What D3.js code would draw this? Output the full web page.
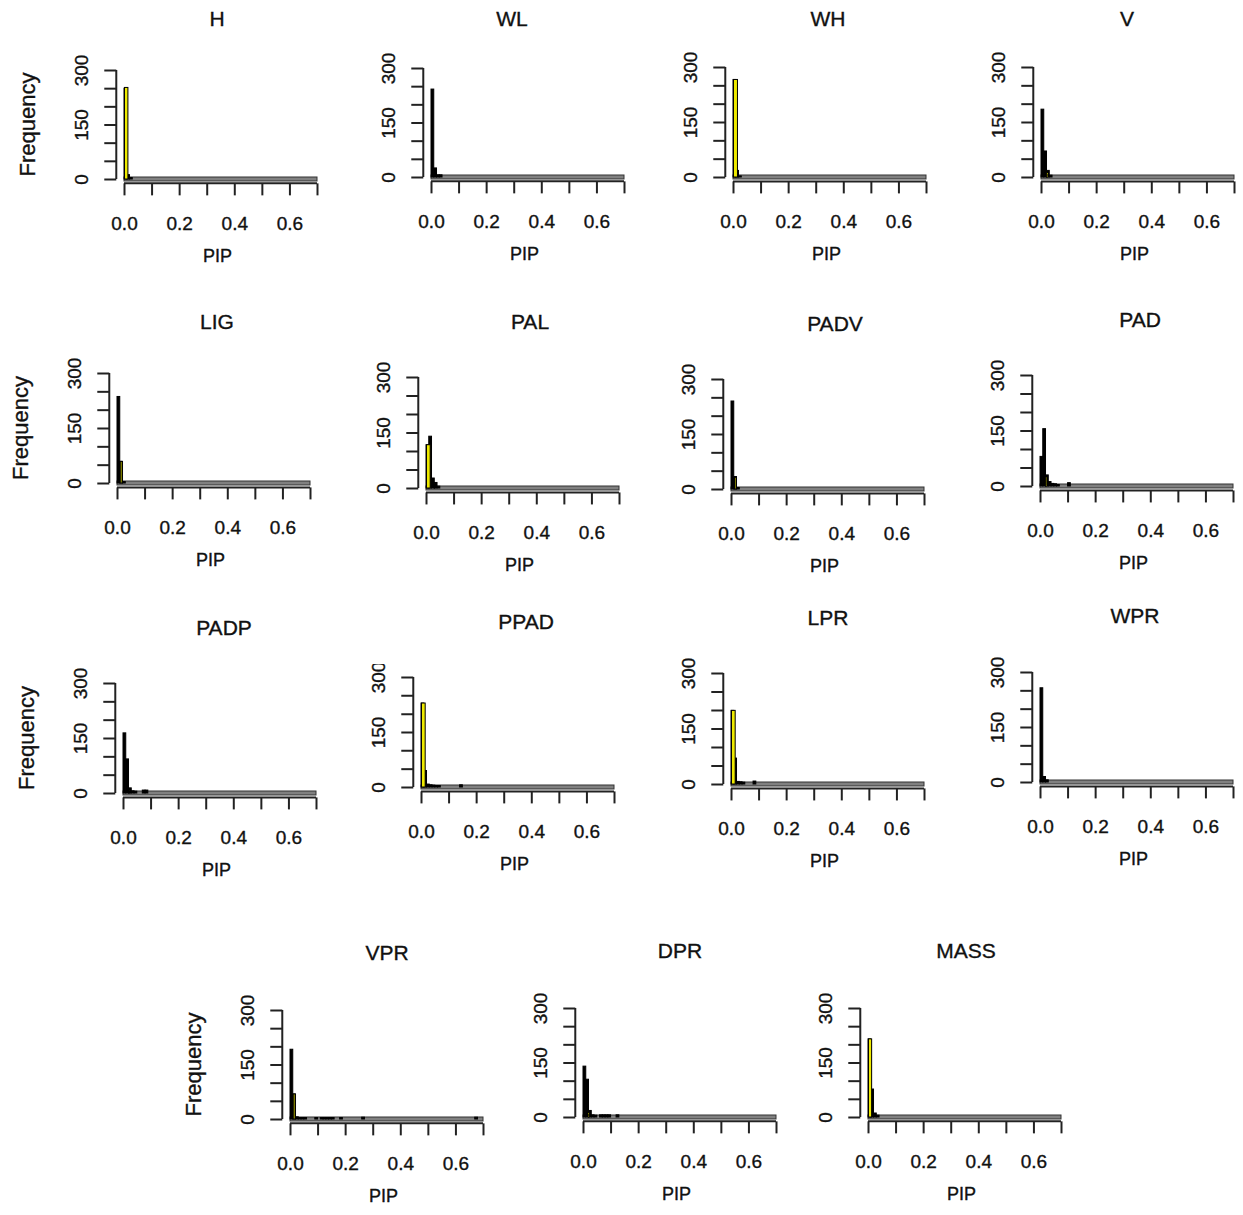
<!DOCTYPE html>
<html><head><meta charset="utf-8">
<script src="https://cdn.jsdelivr.net/npm/d3@7/dist/d3.min.js"></script>
<style>body{margin:0;background:#fff}svg{display:block}text{font-family:"Liberation Sans",Arial,sans-serif;fill:#111;stroke:#111;stroke-width:0.35px}</style>
</head><body>
<svg id="chart" width="1243" height="1215"></svg>
<script>
// ---- data (histogram bins of PIP, bin width 0.01: [binStart, count]) ----
const panelNames = ["H","WL","WH","V","LIG","PAL","PADV","PAD","PADP","PPAD","LPR","WPR","VPR","DPR","MASS"];
const binWidth = 0.01;
const binsH    = [[0,250],[0.01,12],[0.02,4]];
const binsWL   = [[0,242],[0.01,25],[0.02,6],[0.03,6]];
const binsWH   = [[0,266],[0.01,18],[0.02,3]];
const binsV    = [[0,185],[0.01,71],[0.02,18],[0.03,5]];
const binsLIG  = [[0,236],[0.01,59],[0.02,4]];
const binsPAL  = [[0,117],[0.01,140],[0.02,27],[0.03,15],[0.04,5]];
const binsPADV = [[0,240],[0.01,34],[0.02,4]];
const binsPAD  = [[0,80],[0.01,155],[0.02,30],[0.03,12],[0.04,7],[0.05,6],[0.06,4],[0.1,9]];
const binsPADP = [[0,164],[0.01,93],[0.02,14],[0.03,6],[0.04,5],[0.07,8],[0.08,8]];
const binsPPAD = [[0,229],[0.01,45],[0.02,8],[0.03,6],[0.04,5],[0.05,4],[0.06,4],[0.14,6]];
const binsLPR  = [[0,199],[0.01,70],[0.02,7],[0.03,6],[0.04,5],[0.08,8]];
const binsWPR  = [[0,257],[0.01,15],[0.02,6]];
const binsVPR  = [[0,192],[0.01,69],[0.02,6],[0.03,4],[0.04,4],[0.05,4],[0.09,4],[0.11,4],[0.12,4],[0.13,4],[0.14,4],[0.15,4],[0.18,4],[0.26,5],[0.67,5]];
const binsDPR  = [[0,140],[0.01,104],[0.02,18],[0.03,6],[0.04,5],[0.06,6],[0.07,6],[0.08,6],[0.09,6],[0.12,6]];
const binsMASS = [[0,215],[0.01,77],[0.02,11],[0.03,5]];
// highlighted (yellow) overlay bars: [from, to, count]
const yellowH    = [[0,0.016,252]];
const yellowWL   = [];
const yellowWH   = [[0,0.018,266]];
const yellowV    = [[0.019,0.027,12]];
const yellowLIG  = [[0.01,0.02,59]];
const yellowPAL  = [[0,0.017,117],[0.028,0.034,11]];
const yellowPADV = [[0.011,0.02,32]];
const yellowPAD  = [[0.019,0.027,24]];
const yellowPADP = [[0.02,0.027,6]];
const yellowPPAD = [[0,0.017,229]];
const yellowLPR  = [[0,0.017,199]];
const yellowWPR  = [];
const yellowVPR  = [[0.01,0.02,69]];
const yellowDPR  = [[0.017,0.025,12]];
const yellowMASS = [[0,0.015,215]];
const xTicks = [0,0.1,0.2,0.3,0.4,0.5,0.6,0.7];
const xTickLabels = ["0.0","","0.2","","0.4","","0.6",""];
const yTicks = [0,50,100,150,200,250,300];
const yTickLabels = ["0","","","150","","","300"];
const xLabel = "PIP", yLabel = "Frequency";

const allBins = [binsH,binsWL,binsWH,binsV,binsLIG,binsPAL,binsPADV,binsPAD,binsPADP,binsPPAD,binsLPR,binsWPR,binsVPR,binsDPR,binsMASS];
const allYellow = [yellowH,yellowWL,yellowWH,yellowV,yellowLIG,yellowPAL,yellowPADV,yellowPAD,yellowPADP,yellowPPAD,yellowLPR,yellowWPR,yellowVPR,yellowDPR,yellowMASS];

// ---- layout (pixel geometry of each panel) ----
// [x of 0.0, y of count 0, y of count 300, title x, title y, show ylabel, clip top]
const layout = [
  [124,179,70,217,18,true,null],[431,177,68,512,18,false,null],[733,177,67,828,18,false,null],[1041,177,67,1127,18,false,null],
  [117,483,373,217,321,true,null],[426,488,377,530,321,false,null],[731,489,379,835,323,false,null],[1040,486,375,1140,319,false,null],
  [123,793,683,224,627,true,null],[421,787,677,526,621,false,664],[731,784,673,828,617,false,null],[1040,782,672,1135,615,false,null],
  [290,1119,1010,387,952,true,null],[583,1117,1008,680,950,false,null],[868,1117,1008,966,950,false,null]
];
const plotW = 193;

const svg = d3.select("#chart");
const defs = svg.append("defs");

panelNames.forEach((name,i)=>{
  const [x0,y0,y300,tx,ty,showY,clipTop] = layout[i];
  const x = d3.scaleLinear().domain([0,0.7]).range([x0,x0+plotW]);
  const y = d3.scaleLinear().domain([0,300]).range([y0,y300]);
  const g = svg.append("g");
  const axisX = x(-0.028), axisY = y(-12);

  // title
  g.append("text").attr("x",tx).attr("y",ty).attr("text-anchor","middle")
    .attr("dominant-baseline","central").style("font-size","21px").text(name);

  // baseline band (zero-height bars)
  g.append("rect").attr("x",x(0)).attr("y",y(0)-2).attr("width",x(0.7)-x(0)).attr("height",4)
    .attr("fill","#808080").attr("stroke","#333").attr("stroke-width",1);

  // black histogram bars
  g.selectAll("rect.bar").data(allBins[i]).join("rect").attr("class","bar")
    .attr("x",d=>x(d[0])).attr("width",d=>x(d[0]+binWidth)-x(d[0]))
    .attr("y",d=>y(d[1])).attr("height",d=>y(0)-y(d[1]))
    .attr("fill","#000").attr("stroke","#000").attr("stroke-width",1);

  // yellow overlay bars
  g.selectAll("rect.ybar").data(allYellow[i]).join("rect").attr("class","ybar")
    .attr("x",d=>x(d[0])+0.5).attr("width",d=>x(d[1])-x(d[0])-1)
    .attr("y",d=>y(d[2])).attr("height",d=>y(0)-y(d[2]))
    .attr("fill","#eeea00").attr("stroke","#000").attr("stroke-width",1);

  // x axis
  const xa = g.append("g").attr("transform",`translate(0,${axisY})`)
    .call(d3.axisBottom(x).tickValues(xTicks).tickSize(12).tickFormat((d,k)=>xTickLabels[k]));
  xa.select(".domain").attr("stroke","#222").attr("stroke-width",2).attr("d",`M${x(0)},0H${x(0.7)}`);
  xa.selectAll(".tick line").attr("stroke","#222").attr("stroke-width",2);
  xa.selectAll(".tick text").attr("y",y0+45-axisY).attr("dy",null).attr("dominant-baseline","central")
    .style("font-size","19px").attr("fill","#111").style("font-family",'"Liberation Sans",Arial,sans-serif');

  // y axis
  const ya = g.append("g").attr("transform",`translate(${axisX},0)`)
    .call(d3.axisLeft(y).tickValues(yTicks).tickSize(12).tickFormat((d,k)=>yTickLabels[k]));
  ya.select(".domain").attr("stroke","#222").attr("stroke-width",2).attr("d",`M0,${y(0)}V${y(300)}`);
  ya.selectAll(".tick line").attr("stroke","#222").attr("stroke-width",2);
  ya.selectAll(".tick text").attr("x",null).attr("dy",null)
    .attr("transform","translate(-35,0) rotate(-90)").attr("text-anchor","middle").attr("dominant-baseline","central")
    .style("font-size","19px").attr("fill","#111").style("font-family",'"Liberation Sans",Arial,sans-serif');
  if (clipTop !== null) {
    const cid = "clip"+i;
    defs.append("clipPath").attr("id",cid).attr("clipPathUnits","userSpaceOnUse")
      .append("rect").attr("x",-2000).attr("y",clipTop).attr("width",4000).attr("height",2000);
    ya.attr("clip-path",`url(#${cid})`);
  }

  // axis labels
  g.append("text").attr("x",(x(0)+x(0.7))/2-3).attr("y",y0+77).attr("text-anchor","middle")
    .attr("dominant-baseline","central").style("font-size","18px").text(xLabel);
  if (showY) {
    g.append("text").attr("transform",`translate(${axisX-89},${(y(0)+y(300))/2}) rotate(-90)`)
      .attr("text-anchor","middle").attr("dominant-baseline","central").style("font-size","22px").text(yLabel);
  }
});
</script>
</body></html>
